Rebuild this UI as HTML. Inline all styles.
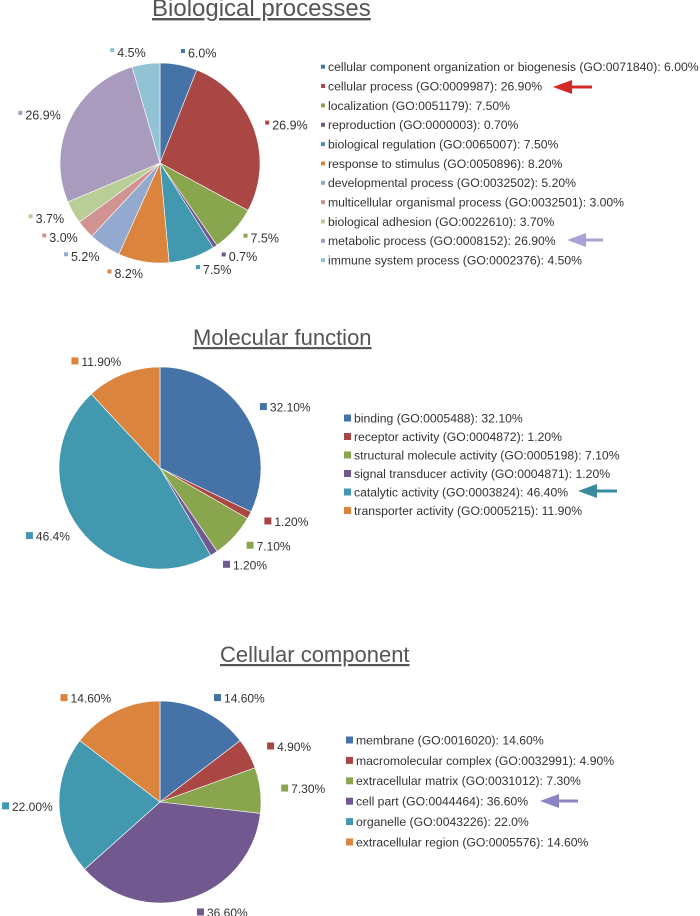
<!DOCTYPE html>
<html><head><meta charset="utf-8"><style>
html,body{margin:0;padding:0;background:#fff}
svg{display:block;font-family:"Liberation Sans",Arial,sans-serif}
</style></head><body>
<svg id="chart" width="700" height="916" viewBox="0 0 700 916" xmlns="http://www.w3.org/2000/svg">
<text x="152" y="16" font-size="24" fill="#555" text-decoration="underline">Biological processes</text>
<text x="193" y="345" font-size="22" fill="#555" text-decoration="underline">Molecular function</text>
<text x="220" y="662" font-size="22" fill="#555" text-decoration="underline">Cellular component</text>
<g><line x1="568" y1="87" x2="592" y2="87" stroke="#d42a25" stroke-width="3"/><polygon points="553,87 572,80 572,94" fill="#d42a25"/></g>
<g><line x1="582" y1="240" x2="603" y2="240" stroke="#a9a3d6" stroke-width="3"/><polygon points="567,240 586,233 586,247" fill="#a9a3d6"/></g>
<g><line x1="593" y1="491" x2="617" y2="491" stroke="#3a8c9c" stroke-width="3"/><polygon points="578,491 597,484 597,498" fill="#3a8c9c"/></g>
<g><line x1="555" y1="801" x2="578" y2="801" stroke="#8a84c4" stroke-width="3"/><polygon points="540,801 559,794 559,808" fill="#8a84c4"/></g>
</svg>
<script>
// Biological processes
const bpCategories = ["cellular component organization or biogenesis (GO:0071840): 6.00%","cellular process (GO:0009987): 26.90%","localization (GO:0051179): 7.50%","reproduction (GO:0000003): 0.70%","biological regulation (GO:0065007): 7.50%","response to stimulus (GO:0050896): 8.20%","developmental process (GO:0032502): 5.20%","multicellular organismal process (GO:0032501): 3.00%","biological adhesion (GO:0022610): 3.70%","metabolic process (GO:0008152): 26.90%","immune system process (GO:0002376): 4.50%"];
const bpValues = [6.0,26.9,7.5,0.7,7.5,8.2,5.2,3.0,3.7,26.9,4.5];
const bpLabels = ["6.0%","26.9%","7.5%","0.7%","7.5%","8.2%","5.2%","3.0%","3.7%","26.9%","4.5%"];
const bpColors = ["#4572a7","#aa4643","#89a54e","#71588f","#4198af","#db843d","#93a9cf","#d19392","#b9cd96","#a99bbd","#92c3d5"];
// Molecular function
const mfCategories = ["binding (GO:0005488): 32.10%","receptor activity (GO:0004872): 1.20%","structural molecule activity (GO:0005198): 7.10%","signal transducer activity (GO:0004871): 1.20%","catalytic activity (GO:0003824): 46.40%","transporter activity (GO:0005215): 11.90%"];
const mfValues = [32.1,1.2,7.1,1.2,46.4,11.9];
const mfLabels = ["32.10%","1.20%","7.10%","1.20%","46.4%","11.90%"];
const mfColors = ["#4572a7","#aa4643","#89a54e","#71588f","#4198af","#db843d"];
// Cellular component
const ccCategories = ["membrane (GO:0016020): 14.60%","macromolecular complex (GO:0032991): 4.90%","extracellular matrix (GO:0031012): 7.30%","cell part (GO:0044464): 36.60%","organelle (GO:0043226): 22.0%","extracellular region (GO:0005576): 14.60%"];
const ccValues = [14.6,4.9,7.3,36.6,22.0,14.6];
const ccLabels = ["14.60%","4.90%","7.30%","36.60%","22.00%","14.60%"];
const ccColors = ["#4572a7","#aa4643","#89a54e","#71588f","#4198af","#db843d"];

const NS="http://www.w3.org/2000/svg";
const svg=document.getElementById('chart');
function mk(tag,attrs,parent){const e=document.createElementNS(NS,tag);for(const k in attrs)e.setAttribute(k,attrs[k]);(parent||svg).appendChild(e);return e;}

function drawPie(prefix,vals,labels,colors,cats,cfg){
  const total=vals.reduce((a,b)=>a+b,0);
  const g=mk('g',{});
  
  
  let a0=0;
  vals.forEach((v,i)=>{
    const a1=a0+v/total*2*Math.PI;
    const x0=cfg.cx+cfg.r*Math.sin(a0),y0=cfg.cy-cfg.r*Math.cos(a0);
    const x1=cfg.cx+cfg.r*Math.sin(a1),y1=cfg.cy-cfg.r*Math.cos(a1);
    const large=(a1-a0)>Math.PI?1:0;
    const p=mk('path',{d:`M${cfg.cx},${cfg.cy}L${x0},${y0}A${cfg.r},${cfg.r} 0 ${large} 1 ${x1},${y1}Z`,fill:colors[i],stroke:'#fff','stroke-width':0.6},g);
    
    
    const am=(a0+a1)/2;
    const lx=cfg.cx+cfg.lr*Math.sin(am), ly=cfg.cy-cfg.lr*Math.cos(am)*cfg.ly;
    const right=Math.sin(am)>=-0.05;
    const tw=labels[i].length*cfg.fs*0.52;
    const mx=Math.max(2,right?lx:lx-tw-8);
    const lg=mk('g',{},g);
    
    
    mk('rect',{x:mx,y:ly-4,width:cfg.ms,height:cfg.ms,fill:colors[i]},lg);
    const t=mk('text',{x:mx+cfg.ms+3,y:ly+cfg.fs*0.38,'font-size':cfg.fs,fill:'#333'},lg);
    t.textContent=labels[i];
    a0=a1;
  });
  const lgd=mk('g',{});
  
  
  cats.forEach((c,i)=>{
    const y=cfg.legY+i*cfg.legDy;
    const e=mk('g',{},lgd);
    
    
    mk('rect',{x:cfg.legX,y:y-cfg.legMs/2,width:cfg.legMs,height:cfg.legMs,fill:colors[i]},e);
    const t=mk('text',{x:cfg.legX+cfg.legMs+3,y:y+cfg.legFs*0.36,'font-size':cfg.legFs,fill:'#333'},e);
    t.textContent=c;
  });
}
drawPie('bp',bpValues,bpLabels,bpColors,bpCategories,{cx:160,cy:163,r:100,lr:112,ly:1,fs:12.5,ms:4,legX:321,legY:66.7,legDy:19.35,legMs:4,legFs:12.2});
drawPie('mf',mfValues,mfLabels,mfColors,mfCategories,{cx:160,cy:468,r:101,lr:118,ly:0.97,fs:12,ms:7,legX:344,legY:418,legDy:18.5,legMs:7,legFs:12.2});
drawPie('cc',ccValues,ccLabels,ccColors,ccCategories,{cx:160,cy:802,r:101,lr:122,ly:0.95,fs:12,ms:7,legX:346,legY:740,legDy:20.4,legMs:7,legFs:12.2});
</script>
</body></html>
